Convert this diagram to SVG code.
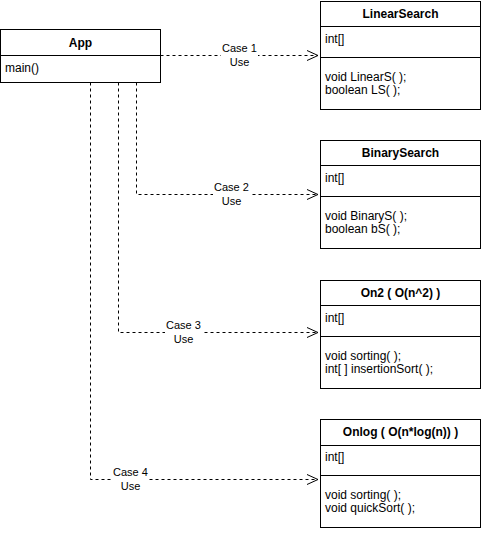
<svg xmlns="http://www.w3.org/2000/svg" width="481" height="533" viewBox="0 0 481 533">
<style>
.box{fill:#fff;stroke:#000;stroke-width:1}
.ln{stroke:#000;stroke-width:1;fill:none}
.t{font-family:"Liberation Sans",Arial,sans-serif;font-size:12px;fill:#000}
.b{font-weight:bold;text-anchor:middle}
.c{fill:none;stroke:#000;stroke-width:1;stroke-dasharray:3 3}
.lab{font-family:"Liberation Sans",Arial,sans-serif;font-size:11px;fill:#000;text-anchor:middle}
.bg{fill:#fff}
</style>
<defs>
<marker id="open" markerWidth="14" markerHeight="12" refX="12" refY="6" orient="auto" markerUnits="userSpaceOnUse">
<path d="M1,1 L12,6 L1,11" fill="none" stroke="#000" stroke-width="1"/>
</marker>
</defs>
<g id="connectors">
<path class="c" d="M160.5,55.5 H318" marker-end="url(#open)"/>
<path class="c" d="M136.5,82.5 V194.5 H318" marker-end="url(#open)"/>
<path class="c" d="M118.5,82.5 V332.5 H318" marker-end="url(#open)"/>
<path class="c" d="M90.5,82.5 V479.5 H318" marker-end="url(#open)"/>
<rect class="bg" x="221" y="44" width="37" height="24"/>
<text class="lab" x="239.5" y="52">Case 1</text>
<text class="lab" x="239.5" y="66">Use</text>
<rect class="bg" x="213" y="183" width="37" height="24"/>
<text class="lab" x="231.5" y="191">Case 2</text>
<text class="lab" x="231.5" y="205">Use</text>
<rect class="bg" x="165" y="321" width="37" height="24"/>
<text class="lab" x="183.5" y="329">Case 3</text>
<text class="lab" x="183.5" y="343">Use</text>
<rect class="bg" x="112" y="468" width="37" height="24"/>
<text class="lab" x="130.5" y="476">Case 4</text>
<text class="lab" x="130.5" y="490">Use</text>
</g>
<g id="App">
<rect class="box" x="0.5" y="29.5" width="160" height="53"/>
<line class="ln" x1="0.5" y1="55.5" x2="160.5" y2="55.5"/>
<text class="t b" x="80.5" y="47">App</text>
<text class="t" x="5" y="72">main()</text>
</g>
<g id="LinearSearch">
<rect class="box" x="320.5" y="1.5" width="160" height="108"/>
<line class="ln" x1="320.5" y1="26.5" x2="480.5" y2="26.5"/>
<line class="ln" x1="320.5" y1="57.5" x2="480.5" y2="57.5"/>
<text class="t b" x="400.5" y="18">LinearSearch</text>
<text class="t" x="325" y="43">int[]</text>
<text class="t" x="325" y="81">void LinearS( );</text>
<text class="t" x="325" y="94">boolean LS( );</text>
</g>
<g id="BinarySearch">
<rect class="box" x="320.5" y="140.5" width="160" height="108"/>
<line class="ln" x1="320.5" y1="165.5" x2="480.5" y2="165.5"/>
<line class="ln" x1="320.5" y1="196.5" x2="480.5" y2="196.5"/>
<text class="t b" x="400.5" y="157">BinarySearch</text>
<text class="t" x="325" y="182">int[]</text>
<text class="t" x="325" y="220">void BinaryS( );</text>
<text class="t" x="325" y="233">boolean bS( );</text>
</g>
<g id="On2">
<rect class="box" x="320.5" y="280.5" width="160" height="108"/>
<line class="ln" x1="320.5" y1="305.5" x2="480.5" y2="305.5"/>
<line class="ln" x1="320.5" y1="336.5" x2="480.5" y2="336.5"/>
<text class="t b" x="400.5" y="297">On2 ( O(n^2) )</text>
<text class="t" x="325" y="322">int[]</text>
<text class="t" x="325" y="360">void sorting( );</text>
<text class="t" x="325" y="373">int[ ] insertionSort( );</text>
</g>
<g id="Onlog">
<rect class="box" x="320.5" y="419.5" width="160" height="108"/>
<line class="ln" x1="320.5" y1="445.5" x2="480.5" y2="445.5"/>
<line class="ln" x1="320.5" y1="475.5" x2="480.5" y2="475.5"/>
<text class="t b" x="400.5" y="436">Onlog ( O(n*log(n)) )</text>
<text class="t" x="325" y="461">int[]</text>
<text class="t" x="325" y="499">void sorting( );</text>
<text class="t" x="325" y="512">void quickSort( );</text>
</g>
</svg>
